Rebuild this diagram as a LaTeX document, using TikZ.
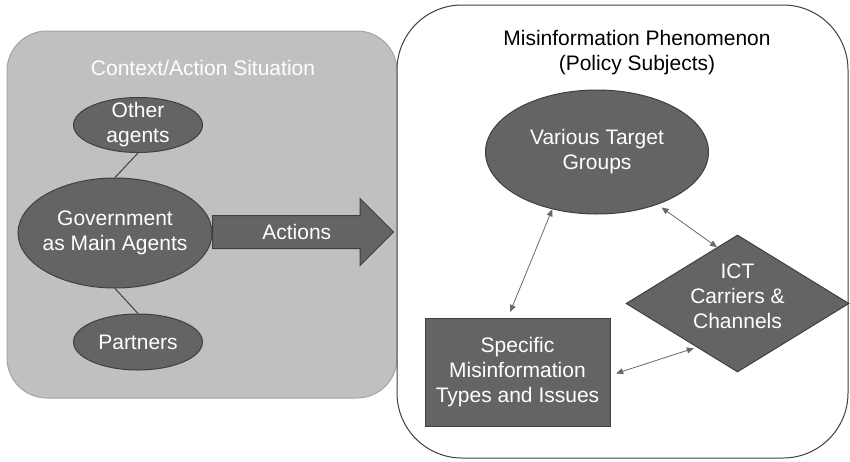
\documentclass[tikz,border=0pt]{standalone}
\usepackage{fontspec}
\setmainfont{Liberation Sans}
\usetikzlibrary{arrows.meta, shapes.geometric, shapes.arrows}
\usetikzlibrary{positioning}
\definecolor{darkfill}{RGB}{100,100,100}
\definecolor{darkline}{RGB}{64,64,64}
\definecolor{ctxfill}{RGB}{192,192,192}
\definecolor{ctxline}{RGB}{165,165,165}
\definecolor{linkgray}{RGB}{105,105,105}

\begin{document}
\begin{tikzpicture}[x=1pt,y=-1pt,>={Triangle[length=7pt,width=6pt]},on grid,
    font=\fontsize{21}{25}\selectfont,line width=1pt]
            \useasboundingbox (0,0) rectangle (850,461);
            \tikzset{panel/.style={rectangle,inner sep=0pt}}
            \tikzset{agent/.style={ellipse,draw=darkline,fill=darkfill,inner sep=0pt}}
            \tikzset{lbl/.style={text=white,align=center,inner sep=0pt}}
            \tikzset{link/.style={<->,draw=linkgray,line width=0.8pt}}
            % the two frames
            \node[panel] [fill=ctxfill,draw=ctxline,rounded corners=40pt,minimum width=390pt,minimum height=367pt] (ctx) at (202,214.5) {};
            \node[panel] [fill=white,draw=black!75,rounded corners=65pt,minimum width=451pt,minimum height=453pt] (phen) at (622.5,231.5) {};
            \node [text=white] (ctxtitle) at (203,68) {Context/Action Situation};
            \node [align=center] (phentitle) at (637,52.5) {Misinformation Phenomenon\\(Policy Subjects)};
            % agents
            \node[agent] [minimum width=194pt,minimum height=110pt,label={[lbl]center:Government\\as Main Agents}] (gov) at (115,233) {};
            \node[agent] [minimum width=129pt,minimum height=55pt,label={[lbl]center:Other\\agents}] (other) [above right=108pt and 23pt of gov] {};
            \node[agent] [minimum width=129pt,minimum height=56pt,label={[lbl]center:Partners}] (partners) [below right=109pt and 23pt of gov] {};
            \path (other.south) edge [draw=darkline] (gov.north);
            \path (gov.south) edge [draw=darkline] (partners.north);
            \node[single arrow] [draw=darkline,fill=darkfill,inner xsep=0pt,inner ysep=8pt,text height=16pt,text depth=0pt,
                single arrow head extend=17pt,minimum width=66pt,minimum height=181pt,anchor=tail,
                label={[lbl,xshift=2pt]center:Actions}] (act) at (212,232) {};
            % policy subjects
            \node[agent] [minimum width=223pt,minimum height=124pt,label={[lbl]center:Various Target\\Groups}] (vtg) at (597,152) {};
            \node[diamond] [draw=darkline,fill=darkfill,inner sep=0pt,minimum width=223pt,minimum height=137pt,
                label={[lbl,yshift=7pt]center:ICT\\Carriers \&\\Channels}] (ict) at (737.5,303.5) {};
            \node[rectangle] [draw=darkline,fill=darkfill,text=white,align=center,inner sep=0pt,
                minimum width=185pt,minimum height=108pt] (spec) at (517.5,372) {Specific\\Misinformation\\Types and Issues};
            \path (vtg.232) edge [link,shorten >=6pt] (spec.100);
            \path (vtg.-41) edge [link,shorten <=5pt] (ict.110);
            \path (spec.-2.5) edge [link,shorten <=6pt,shorten >=3pt] (ict.227);
        \end{tikzpicture}
\end{document}
